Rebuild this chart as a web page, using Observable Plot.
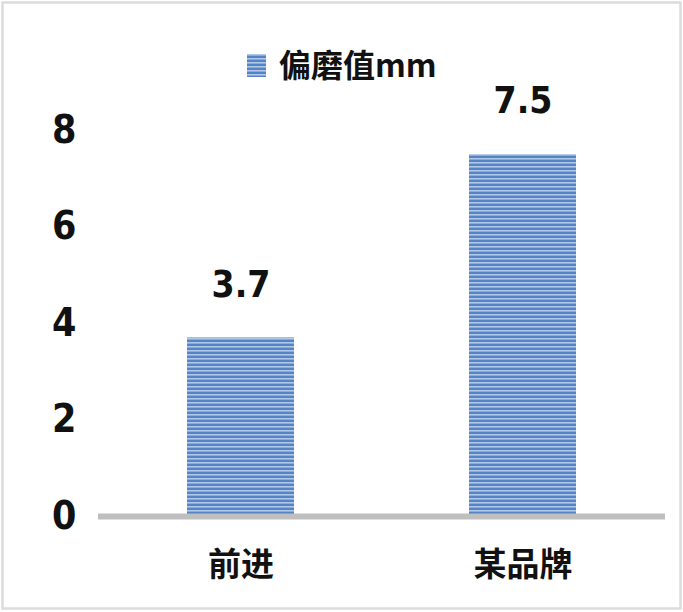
<!DOCTYPE html>
<html>
<head>
<meta charset="utf-8">
<script src="https://cdn.jsdelivr.net/npm/d3@7"></script>
<script src="https://cdn.jsdelivr.net/npm/@observablehq/plot@0.6"></script>
<style>
  html, body { margin: 0; padding: 0; background: #fff; }
  #chart { width: 683px; height: 612px; }
</style>
</head>
<body>
<div id="chart"></div>
<script>
const categories = ["前进", "某品牌"];
const values = [3.7, 7.5];
const seriesName = "偏磨值mm";
const yTicks = [0, 2, 4, 6, 8];

const data = categories.map((c, i) => ({category: c, value: values[i]}));

const numFont = "'Liberation Sans Narrow', 'DejaVu Sans Condensed', 'Liberation Sans', sans-serif";
const cjkFont = "'Noto Sans CJK SC', sans-serif";

const plot = Plot.plot({
  width: 683,
  height: 612,
  marginTop: 130,
  marginBottom: 96,
  marginLeft: 98,
  marginRight: 18,
  style: {background: "#fff", overflow: "visible"},
  x: {domain: categories, paddingInner: 0.622, paddingOuter: 0.313, label: null},
  y: {domain: [0, 8], label: null},
  marks: [
    Plot.barY(data, {x: "category", y: "value", fill: "url(#stripes)"}),
    Plot.ruleY([0], {stroke: "#bfbfbf", strokeWidth: 6}),
    Plot.text(data, {x: "category", y: "value", text: d => d.value.toFixed(1), dy: -53,
      fontSize: 37, fontWeight: "bold", fill: "#111", fontFamily: numFont}),
    Plot.axisY({ticks: yTicks, tickSize: 0, tickPadding: 22, label: null,
      fontSize: 39, fontWeight: "bold", fill: "#111", fontFamily: numFont}),
    Plot.axisX({tickSize: 0, tickPadding: 36, label: null,
      fontSize: 33, fontWeight: "bold", fill: "#111", fontFamily: cjkFont})
  ]
});

const svg = d3.select(plot);
const defs = svg.insert("defs", ":first-child");
const pat = defs.append("pattern")
  .attr("id", "stripes").attr("patternUnits", "userSpaceOnUse")
  .attr("width", 8).attr("height", 4);
pat.append("rect").attr("width", 8).attr("height", 4).attr("fill", "#5683c4");
pat.append("rect").attr("y", 2).attr("width", 8).attr("height", 1.6).attr("fill", "#aec8ea");

// chart border
svg.append("rect").attr("x", 2.5).attr("y", 2.5).attr("width", 678).attr("height", 606)
  .attr("fill", "none").attr("stroke", "#dcdcdc").attr("stroke-width", 2.5);

// legend
const lg = svg.append("g").attr("text-anchor", "start");
lg.append("rect").attr("x", 247).attr("y", 54).attr("width", 19).attr("height", 23)
  .attr("fill", "url(#stripes)");
lg.append("text").attr("x", 279).attr("y", 66).attr("dy", "0.35em")
  .attr("text-anchor", "start")
  .attr("font-size", 32).attr("font-weight", "bold").attr("fill", "#111")
  .attr("font-family", cjkFont).text(seriesName);

document.getElementById("chart").appendChild(plot);
</script>
</body>
</html>
